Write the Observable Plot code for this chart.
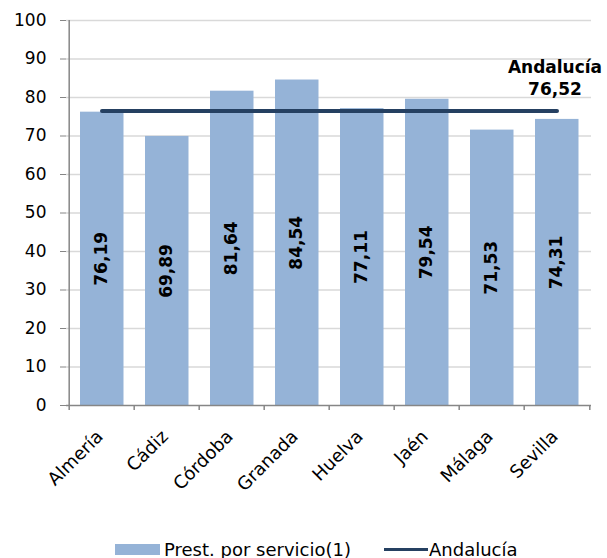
<!DOCTYPE html>
<html>
<head>
<meta charset="utf-8">
<script src="https://cdn.jsdelivr.net/npm/d3@7"></script>
<script src="https://cdn.jsdelivr.net/npm/@observablehq/plot@0.6"></script>
<style>
  body { margin: 0; background: #fff; font-family: "DejaVu Sans", Verdana, sans-serif; }
  #chart { width: 607px; height: 558px; position: relative; }
  .legend { position: absolute; top: 538px; left: 115px; height: 22px; display: flex; align-items: center; font-size: 18px; color: #000; white-space: nowrap; }
  .sw-bar { width: 45px; height: 11px; background: #95b3d7; margin-right: 4px; }
  .sw-line { width: 44px; height: 3px; background: #254061; margin-left: 33px; margin-right: 1px; }
</style>
</head>
<body>
<div id="chart"></div>
<script>
const categories = ["Almería", "Cádiz", "Córdoba", "Granada", "Huelva", "Jaén", "Málaga", "Sevilla"];
const values = [76.19, 69.89, 81.64, 84.54, 77.11, 79.54, 71.53, 74.31];
const andalucia = 76.52;
const yTicks = [0, 10, 20, 30, 40, 50, 60, 70, 80, 90, 100];
const seriesName = "Prest. por servicio(1)";
const lineName = "Andalucía";

const data = categories.map((c, i) => ({cat: c, v: values[i]}));
const fmt = v => v.toFixed(2).replace(".", ",");

const W = 607, H = 530, mL = 66, mR = 16, mT = 20, mB = 125;
const bw = (W - mL - mR) / categories.length;
const perUnit = (H - mT - mB) / 100;

const plot = Plot.plot({
  width: W, height: H,
  marginLeft: mL, marginRight: mR, marginTop: mT, marginBottom: mB,
  style: {fontFamily: "'DejaVu Sans', Verdana, sans-serif", background: "#fff", color: "#000", overflow: "visible"},
  x: {type: "band", domain: categories, padding: 0, axis: null},
  y: {domain: [0, 100], axis: null},
  marks: [
    Plot.gridY(yTicks.filter(t => t > 0), {stroke: "#d9d9d9", strokeOpacity: 1, strokeWidth: 1.5}),
    Plot.barY(data, {x: "cat", y: "v", fill: "#95b3d7", insetLeft: 11, insetRight: 10.5}),
    Plot.ruleX([categories[0]], {dx: -bw / 2, y1: 0, y2: 100, stroke: "#868686", strokeWidth: 1.5}),
    Plot.ruleY([0], {stroke: "#868686", strokeWidth: 1.5}),
    Plot.ruleX(categories, {x: d => d, dx: -bw / 2, y1: 0, y2: -5 / perUnit, stroke: "#868686", strokeWidth: 1.5}),
    Plot.ruleX([categories[categories.length - 1]], {x: d => d, dx: bw / 2, y1: 0, y2: -5 / perUnit, stroke: "#868686", strokeWidth: 1.5}),
    Plot.axisY({ticks: yTicks, tickSize: 6, tickPadding: 14, fontSize: 17, stroke: "#868686", fill: "#000", label: null}),
    Plot.text(categories, {x: d => d, y: () => 0, text: d => d, rotate: -45, textAnchor: "end", dx: -2, dy: 28, fontSize: 18, fill: "#000"}),
    Plot.lineY(categories, {x: d => d, y: () => andalucia, stroke: "#254061", strokeWidth: 4, strokeLinecap: "round"}),
    Plot.text(data, {x: "cat", y: d => d.v / 2, text: d => fmt(d.v), rotate: -90, fontSize: 17, fontWeight: "bold", fill: "#000"}),
    Plot.text([andalucia], {x: () => categories[categories.length - 1], y: d => d, text: d => `${lineName}\n${fmt(d)}`, lineAnchor: "bottom", lineHeight: 1.3, dy: -16, dx: -2, fontSize: 17, fontWeight: "bold", fill: "#000"})
  ]
});
const chart = document.getElementById("chart");
chart.appendChild(plot);
const legend = document.createElement("div");
legend.className = "legend";
legend.innerHTML = `<div class="sw-bar"></div><span>${seriesName}</span><div class="sw-line"></div><span>${lineName}</span>`;
chart.appendChild(legend);
</script>
</body>
</html>
